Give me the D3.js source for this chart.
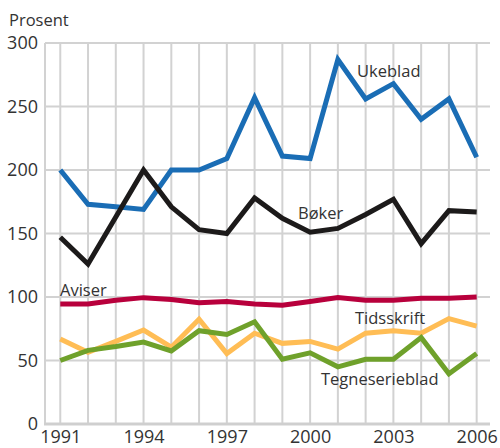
<!DOCTYPE html>
<html>
<head>
<meta charset="utf-8">
<script src="https://cdn.jsdelivr.net/npm/d3@7"></script>
<style>
  body { margin: 0; background: #fff; }
  svg text { font-family: "Open Sans", "Noto Sans", sans-serif; fill: #333; }
</style>
</head>
<body>
<div id="chart"></div>
<script>
// data
var years = d3.range(1991, 2007);
var ukeblad = [200, 173, 171, 169, 200, 200, 209, 257, 211, 209, 287, 256, 268, 240, 256, 210];
var boker = [147, 126, 163, 200, 171, 153, 150, 178, 162, 151, 154, 165, 177, 142, 168, 167];
var aviser = [94.5, 94.5, 97.5, 99.5, 98, 95.5, 96.5, 94.5, 93.5, 96.5, 99.5, 97.5, 97.5, 99, 99, 100];
var tidsskrift = [67, 56.5, 65, 74, 60.5, 82.5, 55.5, 71.5, 63.5, 65, 59, 71.5, 73.5, 71.5, 83, 77];
var tegneserieblad = [50, 58, 61, 64.5, 57.5, 73.5, 70.5, 80.5, 51, 56, 45, 51, 51, 68, 39.5, 55.5];
var yTicks = [0, 50, 100, 150, 200, 250, 300];
var xTicks = [1991, 1994, 1997, 2000, 2003, 2006];

var series = [
  {name: "Ukeblad", values: ukeblad, color: "#1a6db5", lx: 357, ly: 77},
  {name: "Bøker", values: boker, color: "#1c1a1a", lx: 298, ly: 219},
  {name: "Aviser", values: aviser, color: "#b8003c", lx: 60, ly: 296},
  {name: "Tidsskrift", values: tidsskrift, color: "#ffbd55", lx: 355, ly: 324},
  {name: "Tegneserieblad", values: tegneserieblad, color: "#6fa12b", lx: 321, ly: 385}
];

var w = 500, h = 448;

var svg = d3.select("#chart").append("svg")
  .attr("width", w)
  .attr("height", h);

var x = d3.scaleLinear()
  .domain([1990.45, 2006.48])
  .range([45, 490]);

var y = d3.scaleLinear()
  .domain([0, 300])
  .range([424, 43]);

// grid
svg.append("g").selectAll("line")
  .data(yTicks)
  .join("line")
  .attr("x1", x.range()[0])
  .attr("x2", x.range()[1])
  .attr("y1", function(d) { return y(d); })
  .attr("y2", function(d) { return y(d); })
  .attr("stroke", "#d2d2d2")
  .attr("stroke-width", 2);

svg.append("g").selectAll("line")
  .data(years)
  .join("line")
  .attr("x1", function(d) { return x(d); })
  .attr("x2", function(d) { return x(d); })
  .attr("y1", y(0))
  .attr("y2", y(300))
  .attr("stroke", "#d2d2d2")
  .attr("stroke-width", 2);

svg.append("line")
  .attr("x1", x.range()[0]).attr("x2", x.range()[0])
  .attr("y1", y(0)).attr("y2", y(300))
  .attr("stroke", "#d2d2d2").attr("stroke-width", 2);

svg.append("line")
  .attr("x1", x.range()[0] - 1).attr("x2", x.range()[1])
  .attr("y1", y(0)).attr("y2", y(0))
  .attr("stroke", "#cfcfcf").attr("stroke-width", 3);

// axes
var yAxis = d3.axisLeft(y).tickValues(yTicks).tickSize(0).tickPadding(7);
svg.append("g")
  .attr("transform", "translate(" + x.range()[0] + ",0)")
  .call(yAxis)
  .call(function(g) { g.select(".domain").remove(); })
  .selectAll("text")
  .attr("font-size", 18)
  .attr("font-family", null)
  .style("fill", "#333");

var xAxis = d3.axisBottom(x).tickValues(xTicks).tickSize(0).tickPadding(6).tickFormat(d3.format("d"));
svg.append("g")
  .attr("transform", "translate(0," + y(0) + ")")
  .call(xAxis)
  .call(function(g) { g.select(".domain").remove(); })
  .selectAll("text")
  .attr("font-size", 18)
  .attr("font-family", null)
  .style("fill", "#333");

svg.append("text")
  .attr("x", 9)
  .attr("y", 26)
  .attr("font-size", 16.5)
  .text("Prosent");

// lines
var line = d3.line()
  .x(function(d, i) { return x(years[i]); })
  .y(function(d) { return y(d); });

series.forEach(function(s) {
  svg.append("path")
    .datum(s.values)
    .attr("fill", "none")
    .attr("stroke", s.color)
    .attr("stroke-width", 5)
    .attr("stroke-linejoin", "miter")
    .attr("d", line);
});

series.forEach(function(s) {
  svg.append("text")
    .attr("x", s.lx)
    .attr("y", s.ly)
    .attr("font-size", 16.5)
    .text(s.name);
});
</script>
</body>
</html>
